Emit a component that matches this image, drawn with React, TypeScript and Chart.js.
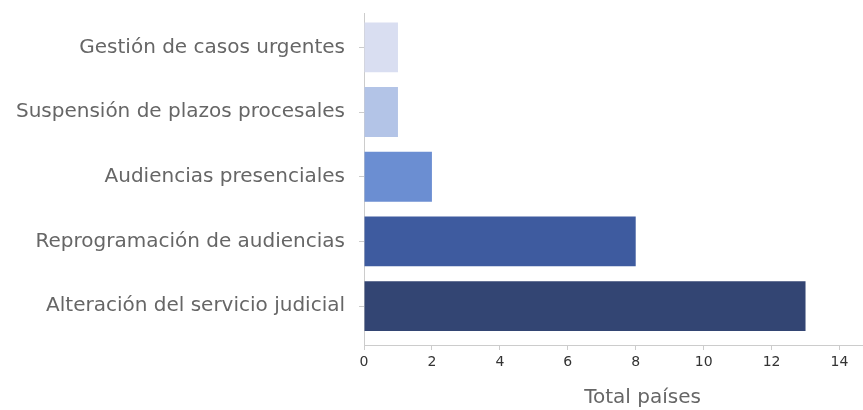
import { useEffect, useRef } from 'react';
import { Chart, registerables } from 'chart.js';

Chart.register(...registerables);

const categories = [
  'Gestión de casos urgentes',
  'Suspensión de plazos procesales',
  'Audiencias presenciales',
  'Reprogramación de audiencias',
  'Alteración del servicio judicial',
];
const values = [1, 1, 2, 8, 13];
const barColors = ['#d9def1', '#b3c4e7', '#6b8ed2', '#3e5b9f', '#334573'];
const xTitle = 'Total países';
const xMin = 0;
const xMax = 16.4;
const xStep = 2;

const FONT = "'DejaVu Sans', sans-serif";

export default function App() {
  const ref = useRef<HTMLCanvasElement | null>(null);

  useEffect(() => {
    if (!ref.current) return;
    const chart = new Chart(ref.current, {
      type: 'bar',
      data: {
        datasets: [
          {
            data: values.map((v, i) => ({ x: v, y: i })),
            backgroundColor: barColors,
            borderWidth: 0,
            categoryPercentage: 1,
            barPercentage: 0.77,
          },
        ],
      },
      options: {
        indexAxis: 'y',
        responsive: false,
        animation: false,
        layout: { padding: { top: 13, left: 0, right: 0, bottom: 0 } },
        plugins: { legend: { display: false }, tooltip: { enabled: false } },
        scales: {
          x: {
            type: 'linear',
            position: 'bottom',
            min: xMin,
            max: xMax,
            ticks: {
              stepSize: xStep,
              includeBounds: false,
              color: '#333333',
              font: { family: FONT, size: 14 },
              padding: 4,
            },
            grid: { drawOnChartArea: false, drawTicks: true, tickLength: 5, color: '#cccccc' },
            border: { display: true, color: '#cccccc' },
            title: {
              display: true,
              text: xTitle,
              color: '#666666',
              font: { family: FONT, size: 20 },
              padding: { top: 0, bottom: 0 },
            },
            afterFit: (s: any) => {
              s.height = 65;
            },
          },
          y: {
            type: 'linear',
            min: -0.53,
            max: 4.6,
            reverse: true,
            offset: false,
            afterBuildTicks: (s: any) => {
              s.ticks = categories.map((_, i) => ({ value: i }));
            },
            ticks: {
              autoSkip: false,
              callback: (v: any) => categories[v as number] ?? '',
              color: '#666666',
              font: { family: FONT, size: 20 },
              padding: 14,
            },
            grid: { offset: false, drawOnChartArea: false, drawTicks: true, tickLength: 5, color: '#cccccc' },
            border: { display: true, color: '#cccccc' },
            afterFit: (s: any) => {
              s.width = 364;
              s.paddingTop = 0;
              s.paddingBottom = 0;
            },
          },
        },
      },
    });
    return () => chart.destroy();
  }, []);

  return (
    <div
      style={{
        position: 'absolute',
        left: 0,
        top: 0,
        width: 863,
        height: 410,
        overflow: 'hidden',
        background: '#ffffff',
      }}
    >
      <canvas ref={ref} width={921} height={410} style={{ display: 'block' }} />
    </div>
  );
}
